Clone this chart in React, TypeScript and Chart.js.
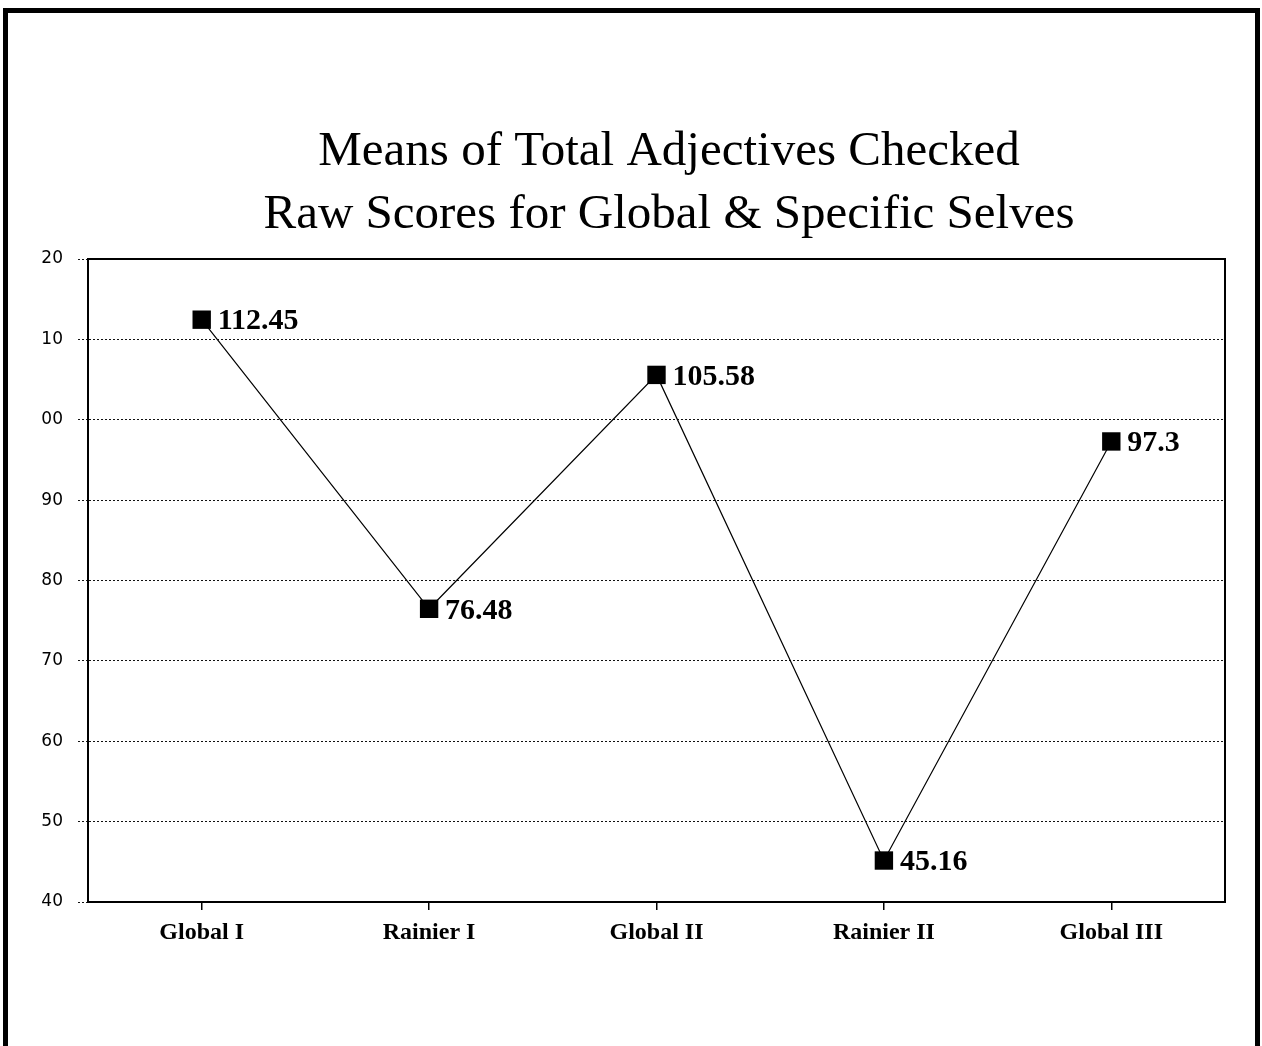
import React, { useEffect, useRef } from "react";
import { Chart, registerables } from "chart.js";

Chart.register(...registerables);

const titleLines = ["Means of Total Adjectives Checked", "Raw Scores for Global & Specific Selves"];
const categories = ["Global I", "Rainier I", "Global II", "Rainier II", "Global III"];
const values = [112.45, 76.48, 105.58, 45.16, 97.3];
const valueLabels = ["112.45", "76.48", "105.58", "45.16", "97.3"];
const yTickValues = [40, 50, 60, 70, 80, 90, 100, 110, 120];
const yTickLabels = ["40", "50", "60", "70", "80", "90", "00", "10", "20"];

const titlePlugin = {
  id: "scanTitle",
  afterDraw(chart: any) {
    const ctx = chart.ctx;
    ctx.save();
    ctx.fillStyle = "#000";
    ctx.font = '49px "Liberation Serif", "Times New Roman", serif';
    ctx.textAlign = "center";
    ctx.textBaseline = "alphabetic";
    ctx.fillText(titleLines[0], 669, 165);
    ctx.fillText(titleLines[1], 669, 228);
    ctx.restore();
  },
};

const framePlugin = {
  id: "plotFrame",
  afterDatasetsDraw(chart: any) {
    const { ctx, chartArea } = chart;
    ctx.save();
    ctx.strokeStyle = "#000";
    ctx.lineWidth = 2;
    ctx.setLineDash([]);
    ctx.strokeRect(chartArea.left, chartArea.top, chartArea.right - chartArea.left, chartArea.bottom - chartArea.top);
    ctx.restore();
  },
};

const valueLabelPlugin = {
  id: "valueLabels",
  afterDatasetsDraw(chart: any) {
    const ctx = chart.ctx;
    const meta = chart.getDatasetMeta(0);
    ctx.save();
    ctx.fillStyle = "#000";
    ctx.font = 'bold 30px "Liberation Serif", "Times New Roman", serif';
    ctx.textAlign = "left";
    ctx.textBaseline = "middle";
    meta.data.forEach((pt: any, i: number) => {
      ctx.fillText(valueLabels[i], pt.x + 16, pt.y + 2);
    });
    ctx.restore();
  },
};

export default function App() {
  const ref = useRef<HTMLCanvasElement | null>(null);

  useEffect(() => {
    if (!ref.current) return;
    const chart = new Chart(ref.current, {
      type: "line",
      data: {
        labels: categories,
        datasets: [
          {
            data: values,
            borderColor: "#000",
            borderWidth: 1.2,
            backgroundColor: "#000",
            pointStyle: "rect",
            pointRadius: 13,
            pointBackgroundColor: "#000",
            pointBorderColor: "#000",
            pointBorderWidth: 0,
            tension: 0,
          },
        ],
      },
      options: {
        animation: false,
        responsive: false,
        maintainAspectRatio: false,
        layout: { padding: { left: 0, right: 37, top: 259, bottom: 84 } },
        plugins: {
          legend: { display: false },
          title: { display: false },
          tooltip: { enabled: false },
        },
        scales: {
          x: {
            type: "category",
            offset: true,
            grid: {
              offset: false,
              drawOnChartArea: false,
              drawTicks: true,
              tickLength: 8,
              color: "#000",
              lineWidth: 1.5,
            },
            border: { color: "#000", width: 2 },
            ticks: {
              color: "#000",
              padding: 8,
              maxRotation: 0,
              font: { family: '"Liberation Serif", "Times New Roman", serif', size: 24, weight: "bold" },
            },
            afterFit(scale: any) {
              scale.height = 60;
            },
          },
          y: {
            min: 40,
            max: 120,
            afterBuildTicks(scale: any) {
              scale.ticks = yTickValues.map((v) => ({ value: v }));
            },
            grid: {
              color: "#111",
              lineWidth: 1,
              tickLength: 10,
              tickColor: "#111",
              tickBorderDash: [2, 2],
              drawTicks: true,
            },
            border: { color: "#000", width: 2, dash: [2, 2] },
            ticks: {
              color: "#000",
              padding: 15,
              font: { family: '"DejaVu Sans", "Liberation Sans", Arial, sans-serif', size: 17 },
              callback: (v: any) => {
                const i = yTickValues.indexOf(Number(v));
                return i >= 0 ? yTickLabels[i] : "";
              },
            },
            afterFit(scale: any) {
              scale.width = 88;
            },
          },
        },
      } as any,
      plugins: [titlePlugin, framePlugin, valueLabelPlugin],
    });
    return () => chart.destroy();
  }, []);

  return (
    <div style={{ position: "fixed", left: 0, top: 0, width: 1262, height: 1046, overflow: "hidden", background: "#fff" }}>
      <div
        style={{
          position: "absolute",
          left: 3,
          top: 8,
          width: 1257,
          height: 1040,
          boxSizing: "border-box",
          borderTop: "5px solid #000",
          borderLeft: "5px solid #000",
          borderRight: "5px solid #000",
        }}
      />
      <canvas ref={ref} width={1262} height={1046} style={{ position: "absolute", left: 0, top: 0, width: 1262, height: 1046 }} />
    </div>
  );
}
